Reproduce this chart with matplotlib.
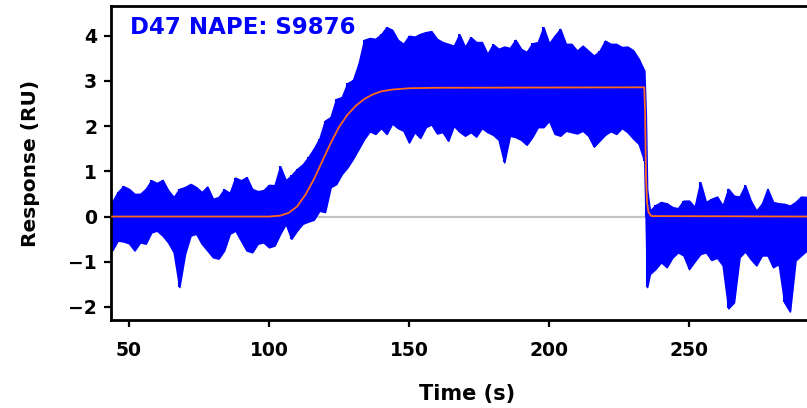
import numpy as np
import matplotlib.pyplot as plt

# sensorgram envelope (time in s, response in RU)
time = [44, 46, 48, 50, 52, 54, 56, 58, 60, 62, 64, 66, 68, 70, 72, 74, 76, 78, 80, 82,
        84, 86, 88, 90, 92, 94, 96, 98, 100, 102, 104, 106,
        108, 110, 112, 114, 116, 118, 120, 122, 124, 126, 128, 130, 132, 134, 136, 138,
        140, 142, 144, 146, 148, 150, 152, 154, 156, 158, 160, 162, 164, 166, 168,
        170, 172, 174, 176, 178, 180, 182, 184, 186, 188, 190, 192, 194, 196, 198, 200,
        202, 204, 206, 208, 210, 212, 214, 216, 218, 220, 222, 224, 226, 228, 230, 232,
        234, 234.5, 235, 236, 238, 240, 242, 244, 246, 248, 250, 252, 254, 256, 258, 260,
        262, 264, 266, 268, 270, 272, 274, 276, 278, 280, 282, 284, 286, 288, 290, 292]

upper = [0.32, 0.54, 0.67, 0.61, 0.50, 0.50, 0.61, 0.80, 0.74, 0.81, 0.58, 0.43, 0.61, 0.65,
         0.72, 0.65, 0.54, 0.66, 0.39, 0.43, 0.60, 0.52, 0.86, 0.80, 0.87, 0.61, 0.56, 0.58,
         0.70, 0.69, 1.11, 0.80,
         0.91, 1.05, 1.15, 1.31, 1.50, 1.72, 2.12, 2.20, 2.60, 2.64, 2.95, 3.02, 3.38, 3.91,
         3.95, 3.93, 4.03, 4.19, 4.13, 3.91, 3.82, 4.00, 3.98, 4.04, 4.08, 4.10, 3.93, 3.86,
         3.82, 3.78, 4.03,
         3.75, 3.97, 3.86, 3.86, 3.60, 3.81, 3.71, 3.76, 3.73, 3.91, 3.71, 3.64, 3.83, 3.86,
         4.19, 3.83, 4.00, 4.15, 3.82, 3.82, 3.67, 3.78, 3.67, 3.56, 3.66, 3.89, 3.82, 3.82,
         3.75, 3.76, 3.68, 3.49,
         3.23, 2.30, 0.60, 0.13, 0.25, 0.32, 0.29, 0.21, 0.18, 0.35, 0.35, 0.21, 0.76, 0.32,
         0.39, 0.44, 0.24, 0.61, 0.46, 0.44, 0.69, 0.35, 0.13, 0.28, 0.61, 0.32, 0.29, 0.28,
         0.24, 0.32, 0.44, 0.43]

lower = [-0.75, -0.53, -0.55, -0.59, -0.75, -0.57, -0.60, -0.35, -0.31, -0.42, -0.57, -0.79,
         -1.56, -0.83, -0.42, -0.38, -0.60, -0.75, -0.90, -0.93, -0.75, -0.38, -0.31, -0.53,
         -0.75, -0.79, -0.60, -0.57, -0.68, -0.64, -0.38, -0.16,
         -0.49, -0.31, -0.16, -0.11, -0.07, 0.13, 0.10, 0.65, 0.72, 0.94, 1.09, 1.28, 1.50,
         1.72, 1.89, 1.83, 1.96, 1.83, 2.06, 1.96, 1.90, 1.64, 1.87, 1.74, 1.98, 2.04, 1.84,
         1.87, 1.68, 2.01, 1.88,
         1.79, 1.87, 1.77, 1.96, 1.87, 1.81, 1.70, 1.20, 1.79, 1.76, 1.70, 1.59, 1.76, 1.98,
         1.98, 2.12, 1.83, 1.79, 1.90, 1.87, 1.84, 1.90, 1.79, 1.55, 1.68, 1.81, 1.89, 1.83,
         1.96, 1.87, 1.73, 1.61,
         1.24, 0.00, -1.56, -1.27, -1.16, -1.01, -1.12, -0.91, -0.79, -0.86, -1.16, -0.99,
         -0.83, -0.79, -0.96, -0.91, -1.08, -2.03, -1.90, -0.90, -0.77, -0.94, -1.08, -0.86,
         -0.86, -1.12, -1.05, -1.90, -2.10, -0.97, -0.86, -0.75]

# fitted curve
fit_time = [44, 100, 104, 107, 110, 113, 116, 119, 122, 125, 128, 131, 134, 137, 140, 144,
            150, 160, 234.0, 234.3, 234.6, 235.0, 235.5, 236.5, 292]
fit_resp = [0, 0, 0.02, 0.08, 0.22, 0.48, 0.82, 1.22, 1.62, 1.98, 2.25, 2.45, 2.60, 2.70,
            2.77, 2.81, 2.84, 2.85, 2.86, 2.30, 0.90, 0.30, 0.10, 0.01, 0]

plt.rcParams['font.family'] = 'DejaVu Sans'
plt.rcParams['font.weight'] = 'bold'

fig = plt.figure(figsize=(8.07, 4.08), dpi=100)
ax = fig.add_axes([111 / 807, 88 / 408, 696 / 807, 314 / 408])

ax.axhline(0, color='#c4c4c4', lw=1.6, zorder=1)
# noisy trace drawn as its envelope, with vertical strokes at each reading
ax.fill_between(time, lower, upper, color='#0000ff', lw=1.2,
                edgecolor='#0000ff', zorder=2)
ax.vlines(time, lower, upper, color='#0000ff', lw=1.5, zorder=2)
ax.plot(fit_time, fit_resp, color='#ff6a1a', lw=1.3, zorder=3)

ax.set_xlim(43.6, 292.1)
ax.set_ylim(-2.29, 4.66)
ax.set_xticks([50, 100, 150, 200, 250])
ax.set_yticks([-2, -1, 0, 1, 2, 3, 4])

for side in ['left', 'bottom', 'top']:
    ax.spines[side].set_linewidth(2)
ax.spines['right'].set_visible(False)
ax.tick_params(direction='out', length=5, width=1.6, labelsize=13.5, pad=5)
ax.tick_params(axis='x', pad=10)

ax.text(0.028, 0.968, 'D47 NAPE: S9876', transform=ax.transAxes, color='#0000ff',
        fontsize=16.5, fontweight='bold', va='top', ha='left')

ax.set_xlabel('Time (s)', fontsize=15, fontweight='bold', va='center')
ax.xaxis.set_label_coords(0.511, -0.236)
ax.set_ylabel('Response (RU)', fontsize=14.5, fontweight='bold', va='center')
ax.yaxis.set_label_coords(-0.116, 0.50)

fig.savefig('out.png', dpi=100)
